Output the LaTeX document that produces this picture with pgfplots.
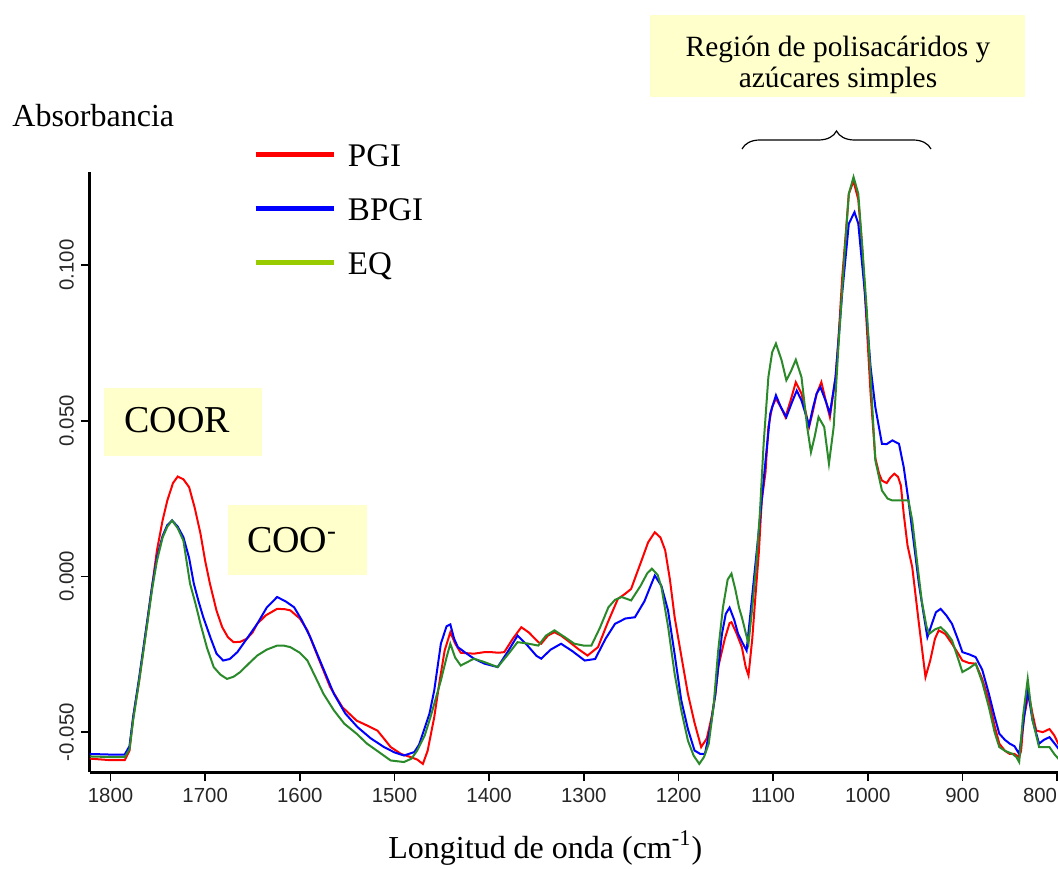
\documentclass[border=0pt]{standalone}
\usepackage{fontspec}
\setmainfont{Liberation Serif}
\newfontfamily\ticksans{Liberation Sans}
\usepackage{pgfplots}
\pgfplotsset{compat=1.18}
\usetikzlibrary{decorations.pathreplacing}

\definecolor{boxyellow}{HTML}{FFFFCC}
\definecolor{pgired}{HTML}{FF0000}
\definecolor{bpgiblue}{HTML}{0000FF}
\definecolor{eqgreen}{HTML}{2A8A2A}
\definecolor{eqlime}{HTML}{99CC00}

% PGI spectrum: wavenumber (cm^-1), absorbance
\pgfplotstableread{
x y
1822 -0.0585
1800 -0.0590
1785 -0.0590
1780 -0.0560
1776 -0.0450
1770 -0.0340
1762 -0.0163
1756 -0.0030
1751 0.0083
1745 0.0180
1740 0.0244
1734 0.0300
1729 0.0321
1723 0.0312
1717 0.0287
1711 0.0220
1705 0.0138
1700 0.0050
1695 -0.0023
1688 -0.0110
1682 -0.0163
1676 -0.0195
1670 -0.0211
1663 -0.0210
1656 -0.0200
1650 -0.0180
1645 -0.0152
1636 -0.0125
1624 -0.0104
1616 -0.0105
1610 -0.0109
1600 -0.0135
1592 -0.0173
1580 -0.0265
1568 -0.0355
1555 -0.0420
1540 -0.0463
1528 -0.0480
1518 -0.0495
1510 -0.0525
1504 -0.0548
1493 -0.0570
1483 -0.0580
1476 -0.0588
1470 -0.0602
1465 -0.0560
1458 -0.0452
1452 -0.0330
1447 -0.0238
1441 -0.0179
1436 -0.0215
1430 -0.0245
1416 -0.0248
1405 -0.0243
1398 -0.0243
1390 -0.0245
1384 -0.0243
1375 -0.0200
1366 -0.0163
1358 -0.0180
1348 -0.0211
1345 -0.0216
1338 -0.0190
1331 -0.0179
1324 -0.0190
1317 -0.0206
1305 -0.0235
1296 -0.0254
1285 -0.0227
1275 -0.0150
1264 -0.0072
1256 -0.0055
1250 -0.0040
1244 0.0010
1239 0.0051
1232 0.0110
1225 0.0142
1219 0.0125
1214 0.0084
1209 -0.0010
1204 -0.0131
1197 -0.0255
1190 -0.0377
1183 -0.0470
1176 -0.0548
1170 -0.0520
1165 -0.0452
1161 -0.0380
1158 -0.0291
1151 -0.0200
1146 -0.0150
1144 -0.0147
1139 -0.0180
1133 -0.0227
1129 -0.0290
1126 -0.0318
1122 -0.0200
1119 -0.0077
1115 0.0080
1112 0.0244
1108 0.0335
1105 0.0480
1101 0.0545
1097 0.0571
1092 0.0545
1087 0.0512
1082 0.0560
1076 0.0624
1070 0.0587
1062 0.0480
1058 0.0530
1054 0.0587
1049 0.0624
1044 0.0560
1040 0.0512
1034 0.0640
1031 0.0760
1027 0.0960
1023 0.1110
1020 0.1229
1015 0.1270
1010 0.1210
1006 0.1060
1003 0.0908
997 0.0587
992 0.0380
988 0.0330
985 0.0308
980 0.0300
976 0.0318
972 0.0330
968 0.0320
965 0.0292
962 0.0201
958 0.0100
953 0.0030
946 -0.0150
939 -0.0323
934 -0.0270
929 -0.0200
925 -0.0173
918 -0.0185
911 -0.0216
905 -0.0245
900 -0.0270
893 -0.0278
886 -0.0280
879 -0.0330
872 -0.0398
866 -0.0480
861 -0.0537
855 -0.0560
850 -0.0570
845 -0.0570
840 -0.0580
838 -0.0560
835 -0.0452
830 -0.0377
826 -0.0440
822 -0.0495
815 -0.0500
808 -0.0490
803 -0.0510
797 -0.0548
}\pgidata

% BPGI spectrum
\pgfplotstableread{
x y
1822 -0.0570
1800 -0.0572
1785 -0.0572
1780 -0.0545
1776 -0.0450
1770 -0.0330
1762 -0.0160
1756 -0.0030
1751 0.0060
1745 0.0130
1740 0.0165
1735 0.0180
1729 0.0160
1723 0.0126
1717 0.0060
1712 -0.0023
1707 -0.0080
1702 -0.0131
1694 -0.0200
1688 -0.0248
1681 -0.0270
1674 -0.0265
1666 -0.0243
1656 -0.0200
1645 -0.0152
1635 -0.0100
1624 -0.0066
1615 -0.0080
1606 -0.0099
1598 -0.0140
1589 -0.0195
1576 -0.0290
1564 -0.0377
1552 -0.0440
1539 -0.0484
1525 -0.0520
1511 -0.0548
1500 -0.0565
1490 -0.0575
1479 -0.0564
1474 -0.0540
1469 -0.0495
1463 -0.0440
1458 -0.0366
1451 -0.0216
1445 -0.0160
1441 -0.0154
1437 -0.0200
1433 -0.0227
1425 -0.0245
1416 -0.0264
1405 -0.0280
1391 -0.0291
1380 -0.0240
1370 -0.0190
1360 -0.0220
1350 -0.0255
1345 -0.0264
1335 -0.0235
1324 -0.0216
1312 -0.0240
1299 -0.0270
1288 -0.0265
1277 -0.0200
1267 -0.0152
1256 -0.0135
1246 -0.0131
1236 -0.0080
1225 0.0003
1218 -0.0030
1211 -0.0109
1204 -0.0250
1197 -0.0398
1190 -0.0490
1183 -0.0559
1177 -0.0570
1172 -0.0570
1166 -0.0480
1161 -0.0377
1154 -0.0184
1150 -0.0120
1146 -0.0100
1141 -0.0140
1137 -0.0184
1132 -0.0215
1128 -0.0238
1124 -0.0120
1119 0.0030
1115 0.0150
1112 0.0244
1108 0.0372
1103 0.0523
1097 0.0582
1092 0.0545
1086 0.0512
1080 0.0560
1075 0.0597
1070 0.0565
1062 0.0485
1058 0.0540
1054 0.0587
1050 0.0608
1044 0.0560
1040 0.0523
1034 0.0640
1027 0.0910
1020 0.1133
1014 0.1170
1010 0.1133
1003 0.0910
997 0.0672
992 0.0544
985 0.0426
980 0.0425
974 0.0437
967 0.0426
962 0.0351
957 0.0244
951 0.0100
946 -0.0023
941 -0.0120
937 -0.0195
932 -0.0150
928 -0.0115
923 -0.0104
917 -0.0125
911 -0.0152
905 -0.0200
900 -0.0243
893 -0.0250
886 -0.0259
879 -0.0300
872 -0.0377
866 -0.0450
861 -0.0505
855 -0.0525
850 -0.0537
845 -0.0545
840 -0.0570
836 -0.0480
831 -0.0366
826 -0.0460
819 -0.0537
814 -0.0525
808 -0.0516
803 -0.0535
797 -0.0559
}\bpgidata

% EQ spectrum
\pgfplotstableread{
x y
1822 -0.0578
1800 -0.0580
1785 -0.0580
1780 -0.0555
1776 -0.0460
1770 -0.0340
1762 -0.0170
1756 -0.0040
1751 0.0050
1745 0.0125
1740 0.0160
1735 0.0180
1729 0.0155
1723 0.0115
1716 -0.0023
1710 -0.0090
1705 -0.0152
1698 -0.0230
1691 -0.0291
1684 -0.0315
1677 -0.0329
1670 -0.0322
1663 -0.0307
1654 -0.0280
1645 -0.0254
1635 -0.0235
1624 -0.0222
1617 -0.0222
1610 -0.0227
1600 -0.0245
1592 -0.0270
1584 -0.0320
1575 -0.0377
1564 -0.0430
1553 -0.0473
1540 -0.0505
1529 -0.0537
1516 -0.0565
1504 -0.0591
1490 -0.0596
1482 -0.0585
1476 -0.0559
1468 -0.0510
1462 -0.0452
1451 -0.0334
1445 -0.0260
1441 -0.0216
1436 -0.0260
1430 -0.0286
1423 -0.0275
1416 -0.0264
1405 -0.0275
1391 -0.0291
1380 -0.0250
1370 -0.0211
1360 -0.0215
1348 -0.0222
1340 -0.0190
1331 -0.0173
1320 -0.0195
1310 -0.0216
1300 -0.0222
1292 -0.0222
1283 -0.0165
1274 -0.0099
1267 -0.0075
1260 -0.0066
1250 -0.0077
1240 -0.0030
1233 0.0010
1228 0.0025
1222 0.0005
1218 -0.0034
1211 -0.0160
1204 -0.0313
1197 -0.0430
1190 -0.0527
1184 -0.0575
1178 -0.0602
1173 -0.0580
1168 -0.0537
1163 -0.0420
1158 -0.0238
1153 -0.0100
1148 -0.0010
1144 0.0009
1140 -0.0040
1136 -0.0100
1133 -0.0131
1129 -0.0180
1126 -0.0216
1122 -0.0100
1118 0.0030
1114 0.0201
1110 0.0426
1105 0.0640
1101 0.0720
1097 0.0748
1091 0.0694
1086 0.0630
1081 0.0660
1076 0.0696
1070 0.0640
1064 0.0480
1060 0.0399
1056 0.0450
1052 0.0512
1046 0.0480
1041 0.0362
1036 0.0480
1031 0.0737
1025 0.1015
1020 0.1229
1015 0.1283
1010 0.1229
1006 0.1069
1001 0.0854
997 0.0640
992 0.0373
985 0.0276
979 0.0250
974 0.0244
965 0.0244
957 0.0244
953 0.0180
948 0.0050
943 -0.0077
938 -0.0160
935 -0.0184
929 -0.0170
923 -0.0163
917 -0.0180
911 -0.0205
905 -0.0260
900 -0.0307
893 -0.0295
886 -0.0280
879 -0.0340
872 -0.0420
866 -0.0500
861 -0.0548
855 -0.0560
847 -0.0570
843 -0.0580
840 -0.0596
836 -0.0450
831 -0.0329
826 -0.0460
819 -0.0548
814 -0.0548
808 -0.0548
803 -0.0570
797 -0.0591
}\eqdata

\begin{document}
\begin{tikzpicture}
\begin{axis}[
  scale only axis,
  width=484pt, height=300pt,
  at={(0pt,0pt)}, anchor=south west,
  x dir=reverse,
  xmin=799, xmax=1821.7,
  ymin=-0.0628, ymax=0.1299,
  axis x line*=bottom, axis y line*=left,
  axis line style={line width=1.5pt, -},
  every outer x axis line/.append style={-},
  every outer y axis line/.append style={-},
  xtick={800,900,1000,1100,1200,1300,1400,1500,1600,1700,1800},
  % the last label sits flush against the right edge
  xticklabels={\makebox[0pt][r]{800},900,1000,1100,1200,1300,1400,1500,1600,1700,1800},
  ytick={-0.05,0,0.05,0.1},
  yticklabels={-0.050,0.000,0.050,0.100},
  tick align=outside,
  major tick length=4.5pt,
  tick style={line width=0.9pt, black},
  ticklabel style={font=\ticksans\fontsize{10.2}{10.5}\selectfont, text=black!85},
  yticklabel style={rotate=90, anchor=south},
  clip=true,
  legend image code/.code={\draw[line width=2.3pt,#1] (0pt,0pt) -- (39pt,0pt);},
  legend style={
    at={(axis description cs:0.1684,1.05)}, anchor=north west,
    draw=none, fill=none, inner sep=0pt,
    row sep=15pt,
    font=\fontsize{16.5}{16.5}\selectfont,
    nodes={inner sep=0pt, text height=12pt, text depth=0pt},
    cells={anchor=west},
    /tikz/every odd column/.style={column sep=6pt},
  },
  legend cell align=left,
]
\addlegendimage{pgired}
\addlegendentry{PGI}
\addlegendimage{bpgiblue}
\addlegendentry{BPGI}
\addlegendimage{eqlime}
\addlegendentry{EQ}

\addplot[forget plot, pgired, line width=1pt] table[x=x,y=y] {\pgidata};
\addplot[forget plot, bpgiblue, line width=1pt] table[x=x,y=y] {\bpgidata};
\addplot[forget plot, eqgreen, line width=1pt] table[x=x,y=y] {\eqdata};
\end{axis}

% axis captions
\node[anchor=base west, inner sep=0pt, font=\fontsize{16}{16}\selectfont] at (-39pt,322.5pt) {Absorbancia};
\node[anchor=base west, inner sep=0pt, font=\fontsize{16}{16}\selectfont] at (149pt,-43pt) {Longitud de onda (cm\textsuperscript{-1})};

% band annotations
\fill[boxyellow] (7pt,158pt) rectangle (86pt,192pt);
\node[anchor=base west, inner sep=0pt, font=\fontsize{19}{19}\selectfont] at (17pt,170pt) {COOR};
\fill[boxyellow] (69pt,98.5pt) rectangle (138.5pt,133.5pt);
\node[anchor=base west, inner sep=0pt, font=\fontsize{19}{19}\selectfont] at (78.3pt,110pt) {COO\textsuperscript{-}};

\begin{scope}
  \clip (280pt,337.5pt) rectangle (467.5pt,378.5pt);
  \fill[boxyellow] (280pt,337.5pt) rectangle (467.5pt,378.5pt);
  \node[anchor=base, inner sep=0pt, font=\fontsize{14.7}{15}\selectfont] at (374pt,357.5pt) {Región de polisacáridos y};
  \node[anchor=base, inner sep=0pt, font=\fontsize{14.7}{15}\selectfont] at (374pt,342pt) {azúcares simples};
\end{scope}
\draw[line width=0.6pt, decorate, decoration={brace, amplitude=9pt}] (326pt,311.5pt) -- (420.5pt,311.5pt);

\pgfresetboundingbox
\path (-45pt,-48pt) rectangle (484pt,386pt);
\end{tikzpicture}
\end{document}
